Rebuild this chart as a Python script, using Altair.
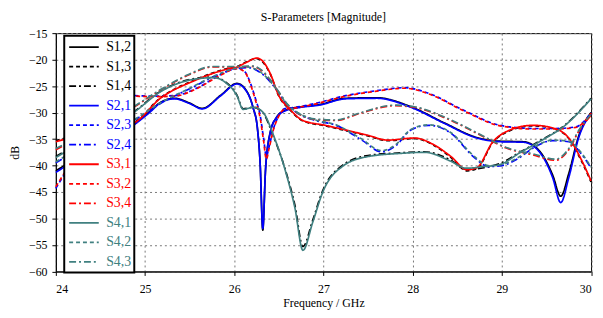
import altair as alt
import pandas as pd

# ---------------- data ----------------
series_names = ["S1,2", "S1,3", "S1,4", "S2,1", "S2,3", "S2,4",
                "S3,1", "S3,2", "S3,4", "S4,1", "S4,2", "S4,3"]
series_colors = ["#000000", "#000000", "#000000",
                 "#0000ff", "#0000ff", "#0000ff",
                 "#ff0000", "#ff0000", "#ff0000",
                 "#408080", "#408080", "#408080"]
series_dash = [[1, 0], [4, 3], [7, 3, 2, 3]] * 4

# S1,2 / S2,1
freq_a = [24.0, 24.45, 24.87, 25.05, 25.18, 25.33, 25.5, 25.64, 25.85, 26.03,
          26.13, 26.21, 26.26, 26.29, 26.32, 26.35, 26.4, 26.47, 26.58, 26.75,
          26.95, 27.25, 27.6, 27.98, 28.35, 28.72, 28.98, 29.24, 29.42, 29.57,
          29.66, 29.75, 29.86, 30.0]
s21 = [-41.3, -36.5, -32.4, -30.0, -28.1, -27.4, -28.3, -29.3, -26.8, -24.6,
       -25.8, -29.0, -33.0, -39.5, -51.9, -41.0, -34.0, -31.0, -29.6, -29.0,
       -28.6, -27.4, -27.3, -29.0, -32.0, -34.8, -35.5, -35.6, -37.4, -42.3,
       -47.0, -42.3, -34.8, -30.2]
s12 = [-41.0, -36.3, -32.2, -29.8, -28.0, -27.3, -28.2, -29.2, -26.7, -24.5,
       -25.7, -29.0, -33.0, -39.5, -52.2, -41.0, -34.0, -31.0, -29.5, -28.9,
       -28.5, -27.3, -27.2, -28.9, -31.9, -34.7, -35.4, -35.5, -37.2, -41.8,
       -45.8, -41.5, -34.5, -30.0]

# S1,3 / S3,1
freq_b = [24.0, 24.45, 24.87, 25.18, 25.55, 25.92, 26.03, 26.15, 26.25, 26.32,
          26.4, 26.5, 26.62, 26.77, 27.02, 27.25, 27.5, 27.72, 28.02, 28.24,
          28.43, 28.61, 28.72, 28.9, 29.05, 29.35, 29.57, 29.75, 29.9, 30.0]
s31 = [-35.5, -33.5, -32.0, -27.2, -24.0, -21.8, -21.4, -20.4, -19.7, -20.3,
       -22.5, -26.8, -29.3, -31.5, -32.4, -33.3, -34.3, -35.2, -34.8, -36.1,
       -38.3, -40.8, -40.4, -35.5, -33.6, -32.4, -32.9, -34.8, -39.2, -42.9]
s13 = [-35.3, -33.4, -31.9, -27.1, -23.9, -21.7, -21.3, -20.3, -19.8, -20.5,
       -22.6, -26.9, -29.4, -31.6, -32.5, -33.4, -34.4, -35.3, -34.9, -36.2,
       -38.5, -41.0, -40.6, -35.6, -33.7, -32.5, -33.0, -34.9, -39.4, -43.1]

# S1,4 / S4,1
freq_c = [24.0, 24.45, 24.87, 25.18, 25.55, 25.77, 25.9, 26.03, 26.1, 26.21,
          26.32, 26.44, 26.58, 26.68, 26.77, 26.88, 26.99, 27.21, 27.5, 27.87,
          28.13, 28.43, 28.6, 28.8, 28.98, 29.2, 29.42, 29.71, 30.0]
s41 = [-38.5, -34.0, -30.0, -26.0, -23.7, -23.4, -24.3, -26.8, -29.4, -29.0,
       -29.9, -34.3, -41.4, -48.0, -56.0, -50.7, -45.1, -40.2, -38.3, -37.7,
       -37.5, -39.2, -40.5, -40.2, -39.8, -37.6, -35.5, -32.4, -27.4]
s14 = [-38.3, -33.9, -29.9, -25.9, -23.6, -23.3, -24.2, -26.7, -29.3, -29.0,
       -30.0, -34.5, -41.2, -47.5, -55.3, -50.3, -44.8, -40.0, -38.1, -37.6,
       -37.4, -39.0, -40.7, -40.4, -39.6, -37.5, -35.4, -32.3, -27.3]

# S2,3 / S3,2
freq_d = [24.0, 24.45, 24.87, 25.1, 25.33, 25.6, 25.85, 26.03, 26.12, 26.18,
          26.24, 26.29, 26.33, 26.36, 26.39, 26.44, 26.49, 26.56, 26.69, 26.9,
          27.25, 27.58, 27.91, 28.2, 28.54, 28.98, 29.35, 29.6, 29.83, 29.93,
          30.0]
s23 = [-44.3, -33.0, -26.8, -26.9, -26.8, -25.2, -22.8, -21.6, -22.3, -24.4,
       -27.5, -30.5, -35.0, -38.3, -36.5, -33.0, -30.9, -29.3, -29.0, -28.3,
       -26.8, -25.9, -25.3, -26.5, -29.3, -32.4, -33.0, -33.0, -32.7, -31.5,
       -30.0]
s32 = [-44.0, -32.9, -26.9, -27.0, -26.9, -25.3, -22.9, -21.7, -22.4, -24.6,
       -27.8, -31.0, -35.5, -38.8, -36.8, -33.2, -31.0, -29.4, -29.1, -28.4,
       -26.9, -26.0, -25.4, -26.6, -29.4, -32.5, -33.1, -33.1, -32.8, -31.6,
       -30.1]

# S2,4 / S4,2
freq_e = [24.0, 24.45, 24.87, 25.2, 25.5, 25.8, 26.0, 26.15, 26.25, 26.36,
          26.47, 26.58, 26.69, 26.91, 27.14, 27.43, 27.65, 27.8, 27.98, 28.18,
          28.43, 28.68, 28.85, 29.0, 29.2, 29.35, 29.57, 29.75, 29.9, 30.0]
s24 = [-39.5, -35.0, -31.5, -28.0, -25.5, -23.0, -21.8, -21.5, -22.0, -23.4,
       -25.6, -28.3, -29.9, -31.5, -32.4, -35.2, -37.4, -36.4, -33.3, -32.4,
       -33.9, -38.3, -40.2, -40.0, -38.5, -36.7, -35.3, -35.5, -38.0, -40.5]
s42 = [-39.3, -34.9, -31.4, -27.9, -25.4, -22.9, -21.7, -21.4, -21.9, -23.3,
       -25.5, -28.2, -29.8, -31.4, -32.3, -35.0, -37.2, -36.2, -33.2, -32.3,
       -33.8, -38.1, -40.0, -39.8, -38.3, -36.6, -35.2, -35.4, -37.8, -40.3]

# S3,4 / S4,3
freq_f = [24.0, 24.45, 24.87, 25.2, 25.5, 25.75, 26.0, 26.2, 26.3, 26.4,
          26.5, 26.6, 26.7, 26.9, 27.14, 27.4, 27.8, 28.02, 28.35, 28.8,
          29.05, 29.35, 29.6, 29.75, 29.86, 30.0]
s34 = [-37.0, -33.0, -29.0, -25.5, -22.8, -21.4, -21.4, -21.3, -22.0, -23.8,
       -26.2, -28.6, -30.0, -31.3, -31.5, -30.2, -28.7, -29.0, -30.9, -34.6,
       -36.7, -38.0, -39.0, -37.0, -33.6, -30.5]
s43 = [-36.8, -32.9, -28.9, -25.4, -22.7, -21.3, -21.3, -21.2, -21.9, -23.7,
       -26.1, -28.5, -29.9, -31.2, -31.4, -30.1, -28.6, -28.9, -30.8, -34.5,
       -36.6, -37.8, -38.8, -36.8, -33.4, -30.3]

x_ticks = [24, 25, 26, 27, 28, 29, 30]
y_ticks = [-15, -20, -25, -30, -35, -40, -45, -50, -55, -60]

# ---------------- long table ----------------
series_data = {
    "S1,2": (freq_a, s12), "S1,3": (freq_b, s13), "S1,4": (freq_c, s14),
    "S2,1": (freq_a, s21), "S2,3": (freq_d, s23), "S2,4": (freq_e, s24),
    "S3,1": (freq_b, s31), "S3,2": (freq_d, s32), "S3,4": (freq_f, s34),
    "S4,1": (freq_c, s41), "S4,2": (freq_e, s42), "S4,3": (freq_f, s43),
}
rows = []
for name in series_names:
    fr, vals = series_data[name]
    for f, v in zip(fr, vals):
        rows.append({"series": name, "f": f, "db": v})
df = pd.DataFrame(rows)

serif = "Liberation Serif, Times New Roman, DejaVu Serif, serif"

legend = alt.Legend(
    title=None,
    orient="none",
    legendX=8.5,
    legendY=2.6,
    direction="vertical",
    symbolType="M-2,0H2",
    symbolSize=225,
    symbolStrokeWidth=1.8,
    symbolOffset=8.5,
    labelOffset=14,
    rowPadding=3.8,
    padding=3,
    labelFont=serif,
    labelFontSize=14,
    labelColor=alt.ExprRef("scale('color', datum.value)"),
    fillColor="white",
    strokeColor="black",
)

chart = (
    alt.Chart(df)
    .mark_line(interpolate="monotone", strokeWidth=1.7)
    .encode(
        x=alt.X("f:Q",
                scale=alt.Scale(domain=[24, 30], nice=False, zero=False),
                axis=alt.Axis(values=x_ticks, title="Frequency / GHz", format="d")),
        y=alt.Y("db:Q",
                scale=alt.Scale(domain=[-60, -15], nice=False, zero=False),
                axis=alt.Axis(values=y_ticks, title="dB", format="d")),
        color=alt.Color("series:N",
                        scale=alt.Scale(domain=series_names, range=series_colors),
                        legend=legend),
        strokeDash=alt.StrokeDash("series:N",
                                  scale=alt.Scale(domain=series_names, range=series_dash),
                                  legend=legend),
    )
    .properties(
        width=542.5,
        height=241.6,
        autosize=alt.AutoSizeParams(type="none"),
        padding={"left": 48.5, "top": 23.4, "right": 4, "bottom": 40},
        title=alt.TitleParams("S-Parameters [Magnitude]", font=serif, fontSize=12,
                              fontWeight="normal", anchor="middle", offset=3,
                              color="black"),
    )
    .configure_view(stroke="black", strokeWidth=1)
    .configure_legend(strokeWidth=2)
    .configure_axis(
        labelFont=serif, labelFontSize=12, labelColor="black",
        titleFont=serif, titleFontSize=12, titleFontWeight="normal", titleColor="black",
        domainColor="black", tickColor="black", tickSize=4, labelPadding=5,
        grid=True, gridColor="#777777", gridDash=[2, 3], gridWidth=1,
    )
    .configure_axisX(titlePadding=4, labelPadding=8)
    .configure_axisY(titlePadding=7)
)

chart.save("out.html", embed_options={"renderer": "svg", "actions": False})
